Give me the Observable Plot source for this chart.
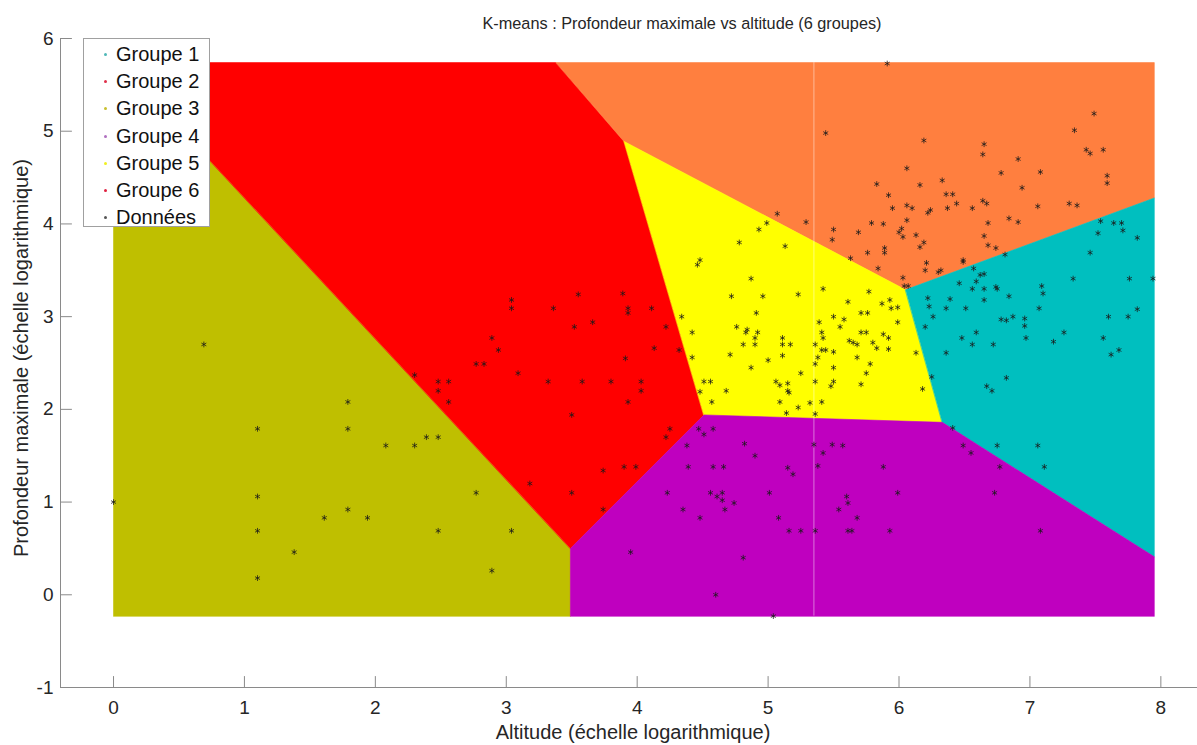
<!DOCTYPE html>
<html>
<head>
<meta charset="utf-8">
<script src="https://cdn.jsdelivr.net/npm/d3@7"></script>
<script src="https://cdn.jsdelivr.net/npm/@observablehq/plot@0.6"></script>
<style>
  html, body { margin: 0; padding: 0; background: #fff; }
  #wrap { position: relative; width: 1197px; height: 745px; font-family: "Liberation Sans", Arial, sans-serif; color: #262626; overflow: hidden; }
  #title { position: absolute; left: 482px; width: 400px; top: 13px; line-height: 20px; text-align: center; font-size: 16.3px; white-space: nowrap; }
  #xlabel { position: absolute; left: 433px; width: 400px; top: 720px; line-height: 24px; text-align: center; font-size: 20px; white-space: nowrap; }
  #ylabel { position: absolute; left: 21px; top: 358px; line-height: 24px; font-size: 20px; white-space: nowrap; transform: translate(-50%, -50%) rotate(-90deg); }
  #legend { position: absolute; left: 83px; top: 38px; width: 127px; height: 189px; background: #fff; border: 1px solid #a0a0a0; box-sizing: border-box; }
  .li { position: absolute; left: 0; height: 27px; line-height: 27px; font-size: 20px; color: #111; }
  .li span.m { position: absolute; left: 20px; top: 12px; width: 3px; height: 3px; border-radius: 50%; }
  .li span.t { position: absolute; left: 32px; white-space: nowrap; }
</style>
</head>
<body>
<div id="wrap">
  <div id="chart"></div>
  <div id="title"></div>
  <div id="xlabel"></div>
  <div id="ylabel"></div>
  <div id="legend"></div>
</div>
<script>
// ---- texts ----
const titleText = "K-means : Profondeur maximale vs altitude (6 groupes)";
const xLabel = "Altitude (échelle logarithmique)";
const yLabel = "Profondeur maximale (échelle logarithmique)";
const legendLabels = ["Groupe 1", "Groupe 2", "Groupe 3", "Groupe 4", "Groupe 5", "Groupe 6", "Données"];
const legendColors = ["#4fb8b8", "#e0304a", "#c8c030", "#b070c0", "#f0f020", "#e02040", "#555555"];

// ---- axes ----
const xDomain = [-0.405, 8.28];
const yDomain = [-1, 6];
const xTicks = [0, 1, 2, 3, 4, 5, 6, 7, 8];
const yTicks = [-1, 0, 1, 2, 3, 4, 5, 6];

// ---- Voronoi regions (cluster decision areas) ----
const regionColors = ["#bfbf00", "#ff0000", "#ff7f3f", "#ffff00", "#00bfbf", "#bf00bf"];
const regionOlive   = [[0, -0.23], [0, 5.74], [0.04, 5.74], [3.49, 0.50], [3.49, -0.23]];
const regionRed     = [[0.04, 5.74], [3.38, 5.74], [3.90, 4.89], [4.51, 1.94], [3.49, 0.50]];
const regionOrange  = [[3.38, 5.74], [7.95, 5.74], [7.95, 4.28], [6.05, 3.29], [3.90, 4.89]];
const regionYellow  = [[3.90, 4.89], [6.05, 3.29], [6.33, 1.86], [4.51, 1.94]];
const regionCyan    = [[6.05, 3.29], [7.95, 4.28], [7.95, 0.41], [6.33, 1.86]];
const regionMagenta = [[3.49, -0.23], [3.49, 0.50], [4.51, 1.94], [6.33, 1.86], [7.95, 0.41], [7.95, -0.23]];
const regions = [regionOlive, regionRed, regionOrange, regionYellow, regionCyan, regionMagenta];
const seamX = [5.35];
const seamY = [-0.23, 5.74];

// ---- data points ----
const ptX = [
  0.00,0.69,1.10,1.79,1.79,2.08,1.10,1.10,1.10,1.38,1.61,1.79,1.94,2.30,2.39,2.48,2.77,2.48,3.04,2.89,
  2.30,2.48,2.56,2.48,2.56,2.77,2.83,2.89,2.94,3.04,3.04,3.09,3.32,3.36,3.50,3.52,3.55,3.58,3.66,3.80,
  3.89,3.91,3.93,3.93,3.93,4.03,4.03,4.11,4.13,4.22,4.22,4.25,4.32,4.34,4.42,4.42,3.74,3.90,3.99,3.18,
  3.50,3.74,3.95,
  4.46,4.48,4.51,4.56,4.68,4.57,4.71,4.72,4.76,4.83,4.84,4.87,4.87,4.91,4.92,4.90,4.90,4.81,4.96,5.00,
  5.06,5.09,5.11,5.11,5.11,5.15,5.15,5.16,5.09,5.14,5.17,5.23,5.23,5.07,4.99,4.93,4.78,5.13,5.42,5.77,
  5.61,5.87,5.93,5.94,5.99,5.50,5.58,5.71,5.76,5.99,5.39,5.55,5.41,5.71,5.75,5.88,5.92,5.42,5.62,5.65,
  5.36,5.68,5.80,5.83,5.92,5.41,5.44,5.50,5.38,5.68,6.13,5.36,5.78,5.50,5.25,5.75,5.36,5.50,5.48,5.71,
  6.18,4.48,5.41,5.32,5.36,
  5.91,5.44,6.19,6.65,6.64,7.49,7.34,7.43,7.46,7.56,6.91,6.78,7.08,6.06,5.83,6.16,6.33,7.59,7.59,6.94,
  5.92,6.36,6.41,6.44,6.64,6.67,6.56,7.06,7.30,7.36,5.95,6.06,6.10,6.37,6.22,6.24,6.06,5.79,5.88,5.69,
  6.00,6.02,6.03,6.13,6.16,6.19,5.89,5.29,5.50,5.49,6.68,6.84,6.91,6.65,6.68,6.74,5.89,5.76,5.63,6.21,
  6.20,6.30,6.32,6.49,6.49,5.84,6.03,6.04,6.07,6.81,7.46,
  7.54,7.64,7.70,7.71,7.52,7.82,6.57,6.62,6.65,6.59,6.46,6.56,6.65,6.74,6.75,7.09,7.10,7.33,7.76,7.94,
  6.84,6.65,6.39,6.22,6.23,6.36,6.51,6.26,6.78,6.82,6.87,6.96,6.96,7.07,7.60,7.75,7.82,6.20,6.59,7.26,
  6.48,6.56,6.72,6.97,7.18,7.56,7.68,7.62,6.36,6.25,6.82,6.67,6.71,
  4.47,4.51,4.58,4.38,4.82,4.90,4.39,4.58,4.66,5.15,5.19,4.23,4.56,4.61,4.65,4.65,4.74,5.01,4.35,4.48,
  4.67,5.08,5.16,5.36,5.54,4.81,4.60,5.04,5.35,5.42,5.49,5.38,5.57,6.49,6.55,6.75,7.06,6.77,7.11,5.88,
  5.60,5.99,6.73,5.25,5.61,5.64,5.93,7.08,5.61,5.68,6.41
];
const ptY = [
  1.00,2.70,1.79,2.08,1.79,1.61,1.06,0.69,0.18,0.46,0.83,0.92,0.83,1.61,1.70,1.70,1.10,0.69,0.69,0.26,
  2.37,2.30,2.30,2.20,2.08,2.49,2.49,2.77,2.64,3.18,3.09,2.39,2.30,3.09,1.94,2.89,3.24,2.30,2.94,2.30,
  3.25,2.55,3.09,3.04,2.08,2.30,2.20,3.09,2.66,2.89,1.70,1.79,2.64,3.00,2.83,2.56,1.34,1.38,1.38,1.20,
  1.10,0.92,0.46,
  3.56,3.61,2.30,2.30,2.20,2.08,2.59,3.22,2.89,2.83,2.86,3.41,2.45,3.04,2.83,2.77,2.70,2.70,3.22,2.53,
  2.30,2.26,2.77,2.70,2.58,2.28,2.20,2.18,2.08,1.96,2.70,2.02,3.24,4.11,4.01,3.94,3.80,3.76,3.30,3.27,
  3.16,3.14,3.18,3.09,3.10,3.00,2.97,3.04,3.04,2.94,2.94,2.89,2.83,2.83,2.83,2.81,2.77,2.77,2.74,2.72,
  2.70,2.70,2.72,2.66,2.65,2.64,2.64,2.62,2.56,2.56,2.61,2.49,2.49,2.45,2.39,2.39,2.30,2.30,2.25,2.27,
  2.22,2.19,2.08,2.07,1.95,
  5.73,4.98,4.90,4.86,4.75,5.19,5.01,4.80,4.76,4.80,4.70,4.55,4.56,4.60,4.43,4.42,4.47,4.52,4.44,4.39,
  4.31,4.32,4.32,4.22,4.25,4.22,4.17,4.19,4.22,4.20,4.17,4.20,4.17,4.17,4.12,4.15,4.04,4.01,4.00,3.91,
  3.91,3.95,3.86,3.88,3.75,3.80,3.74,4.02,3.94,3.83,4.01,4.06,4.02,3.87,3.77,3.74,3.69,3.69,3.63,3.58,
  3.50,3.48,3.50,3.61,3.59,3.52,3.42,3.33,3.33,3.67,3.69,
  4.03,4.01,4.01,3.93,3.90,3.85,3.52,3.45,3.46,3.38,3.36,3.30,3.30,3.32,3.30,3.33,3.25,3.41,3.41,3.41,
  3.22,3.18,3.19,3.20,3.11,3.09,3.09,3.00,2.97,2.96,3.00,2.98,2.90,3.09,3.00,3.00,3.08,2.89,2.83,2.83,
  2.77,2.70,2.70,2.77,2.73,2.77,2.64,2.59,2.61,2.35,2.34,2.25,2.20,
  1.79,1.73,1.79,1.61,1.63,1.50,1.38,1.38,1.38,1.37,1.30,1.10,1.10,1.06,1.10,1.02,0.99,1.10,0.92,0.83,
  0.92,0.83,0.69,0.69,0.92,0.40,0.00,-0.23,1.62,1.53,1.62,1.39,1.61,1.61,1.53,1.61,1.61,1.38,1.38,1.38,
  1.06,1.10,1.10,0.69,0.69,0.69,0.69,0.69,0.99,0.83,1.80
];
const points = ptX.map((x, i) => ({x, y: ptY[i]}));

// tick mark shape drawn by vectors (inward ticks)
const tickShape = { draw(context, l) { context.moveTo(0, 0); context.lineTo(0, -l); } };
const axisColor = "#8a8a8a";
const textColor = "#262626";

const regionMarks = regions.map((poly, i) =>
  Plot.line(poly.map(([x, y]) => ({x, y})), {
    x: "x", y: "y", fill: regionColors[i], stroke: regionColors[i], strokeWidth: 0.6, curve: "linear-closed"
  })
);

const chart = Plot.plot({
  width: 1197,
  height: 745,
  marginTop: 38,
  marginBottom: 58,
  marginLeft: 60,
  marginRight: 0,
  style: { fontFamily: "Liberation Sans, Arial, sans-serif", fontSize: "19px", color: textColor, background: "#fff" },
  x: { domain: xDomain, label: null },
  y: { domain: yDomain, label: null },
  marks: [
    ...regionMarks,
    Plot.ruleX(seamX, { y1: seamY[0], y2: seamY[1], stroke: "#ffffff", strokeOpacity: 0.45, strokeWidth: 1 }),
    Plot.dot(points, { x: "x", y: "y", symbol: "asterisk", r: 2.7, stroke: "#1a1a1a", strokeWidth: 1, strokeOpacity: 0.75 }),
    // axis lines
    Plot.ruleY([yDomain[0]], { stroke: axisColor, strokeWidth: 1 }),
    Plot.ruleX([xDomain[0]], { stroke: axisColor, strokeWidth: 1 }),
    // inward tick marks
    Plot.vector(xTicks, { x: d => d, frameAnchor: "bottom", length: 11, rotate: 0, anchor: "start", shape: tickShape, stroke: axisColor, strokeWidth: 1 }),
    Plot.vector(yTicks, { y: d => d, frameAnchor: "left", length: 11, rotate: 90, anchor: "start", shape: tickShape, stroke: axisColor, strokeWidth: 1 }),
    // tick labels
    Plot.axisX(xTicks, { tickSize: 0, tickPadding: 13, fontSize: 19, fill: textColor, label: null, tickFormat: d => String(d) }),
    Plot.axisY(yTicks, { tickSize: 0, tickPadding: 7, fontSize: 19, fill: textColor, label: null, tickFormat: d => String(d) })
  ]
});
document.getElementById("chart").appendChild(chart);
document.getElementById("title").textContent = titleText;
document.getElementById("xlabel").textContent = xLabel;
document.getElementById("ylabel").textContent = yLabel;

const legend = document.getElementById("legend");
legendLabels.forEach((lab, i) => {
  const row = document.createElement("div");
  row.className = "li";
  row.style.top = (2 + i * 27.2) + "px";
  const m = document.createElement("span");
  m.className = "m";
  m.style.background = legendColors[i];
  const t = document.createElement("span");
  t.className = "t";
  t.textContent = lab;
  row.appendChild(m); row.appendChild(t);
  legend.appendChild(row);
});
</script>
</body>
</html>
